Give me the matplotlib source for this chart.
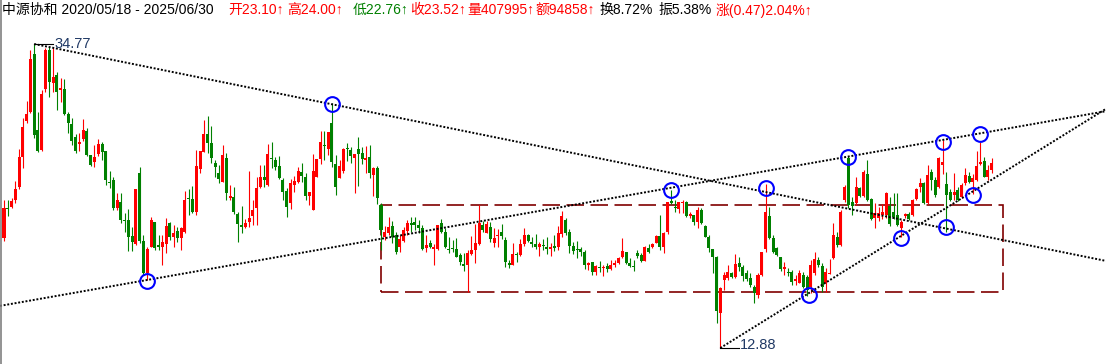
import numpy as np
import matplotlib.pyplot as plt
from matplotlib.lines import Line2D
from matplotlib.patches import Rectangle

# weekly bars of 中源协和, 2020/05/18 - 2025/06/30
opens = [
    20.80, 22.96, 23.04, 23.54, 24.48, 26.64, 29.23, 29.88, 34.05, 28.58,
    27.14, 31.53, 34.34, 31.96, 32.54, 31.46, 31.53, 29.73, 29.01, 28.08,
    27.57, 27.93, 28.51, 26.78, 26.28, 26.85, 27.57, 27.07, 24.84, 24.98,
    22.96, 23.40, 22.10, 22.10, 20.95, 20.37, 25.48, 20.59, 18.28, 20.16,
    21.96, 20.30, 20.16, 20.37, 21.88, 20.88, 21.31, 20.80, 21.24, 23.68,
    23.61, 22.68, 25.77, 27.00, 28.29, 27.64, 26.20, 25.48, 24.84, 26.56,
    23.68, 23.76, 22.53, 21.74, 21.60, 21.96, 22.39, 22.96, 24.48, 25.20,
    24.62, 26.56, 26.42, 25.99, 24.98, 24.19, 23.32, 24.62, 24.84, 25.56,
    25.20, 23.83, 22.82, 25.20, 26.49, 27.50, 27.21, 29.08, 26.13, 25.12,
    25.63, 27.28, 27.14, 26.56, 27.21, 26.92, 26.42, 26.64, 25.34, 25.84,
    23.18, 20.88, 21.16, 21.67, 21.02, 20.16, 20.59, 21.31, 21.88, 21.96,
    21.74, 21.52, 20.08, 20.44, 20.01, 20.01, 21.88, 21.24, 20.01, 20.08,
    20.01, 19.58, 18.93, 18.86, 19.65, 19.94, 20.37, 21.74, 21.16, 21.60,
    20.44, 20.95, 21.24, 20.66, 19.00, 18.86, 19.65, 19.58, 20.37, 21.02,
    20.52, 20.37, 20.16, 20.30, 20.16, 20.01, 20.23, 20.16, 21.09, 22.10,
    21.24, 20.23, 20.01, 20.01, 19.80, 18.86, 19.08, 18.36, 18.72, 18.64,
    18.79, 18.57, 18.86, 19.00, 19.44, 19.80, 19.00, 18.79, 19.72, 19.58,
    19.15, 20.08, 20.16, 20.44, 20.95, 20.16, 21.24, 23.47, 23.04, 22.89,
    23.32, 23.40, 22.39, 22.46, 21.96, 22.82, 21.67, 20.88, 20.01, 19.44,
    15.40, 17.78, 17.92, 18.28, 18.00, 19.00, 18.72, 18.28, 17.92, 17.28,
    16.70, 18.14, 20.01, 22.39, 20.80, 20.08, 19.44, 18.57, 18.36, 18.36,
    17.71, 17.56, 18.14, 18.00, 17.28, 18.28, 19.22, 18.79, 17.56, 18.21,
    19.36, 20.88, 20.30, 23.54, 26.56, 23.40, 23.32, 24.40, 23.83, 25.41,
    23.61, 22.24, 22.24, 22.46, 22.46, 23.11, 22.68, 22.46, 21.52, 22.39,
    22.53, 22.46, 23.61, 24.48, 24.76, 23.32, 25.56, 24.98, 24.48, 26.06,
    24.69, 24.12, 23.90, 24.26, 23.76, 24.76, 25.27, 24.84, 24.98, 26.13,
    26.35, 25.20, 25.70,
]
highs = [
    23.54, 23.54, 23.68, 24.91, 27.21, 29.44, 30.67, 34.34, 34.77, 29.88,
    31.46, 34.48, 34.56, 34.56, 32.76, 32.32, 32.25, 29.88, 29.44, 28.29,
    28.36, 29.37, 28.72, 26.78, 27.50, 27.93, 27.72, 27.07, 25.63, 25.20,
    24.04, 24.04, 22.60, 22.89, 21.60, 24.33, 25.92, 21.02, 20.16, 22.32,
    21.96, 21.02, 21.02, 22.24, 21.96, 21.74, 21.60, 21.60, 24.19, 24.33,
    24.55, 27.14, 27.07, 29.30, 29.59, 28.87, 26.42, 26.06, 27.50, 26.92,
    24.62, 24.48, 22.68, 23.11, 22.17, 25.63, 23.54, 25.20, 26.06, 26.06,
    27.57, 27.72, 26.64, 26.71, 25.12, 24.40, 25.05, 25.27, 25.92, 26.20,
    25.48, 24.12, 26.85, 26.49, 28.51, 28.51, 28.44, 30.52, 26.78, 26.42,
    27.28, 27.64, 27.36, 26.85, 28.08, 27.36, 27.43, 27.50, 25.92, 25.99,
    23.32, 21.67, 22.32, 22.03, 21.24, 21.02, 21.60, 22.10, 22.32, 22.32,
    22.10, 21.74, 21.02, 20.66, 20.37, 21.74, 22.17, 21.52, 20.88, 20.66,
    20.80, 19.72, 19.72, 19.94, 20.95, 21.81, 23.18, 22.03, 22.03, 21.96,
    21.52, 21.45, 21.81, 20.88, 19.22, 20.44, 19.80, 20.73, 21.52, 21.09,
    20.88, 21.09, 20.52, 20.73, 20.88, 20.44, 21.02, 21.67, 22.75, 22.24,
    21.45, 20.52, 20.59, 20.16, 19.94, 19.08, 19.08, 18.86, 19.15, 18.86,
    19.00, 19.22, 19.22, 19.44, 20.80, 19.80, 19.36, 19.22, 19.94, 19.72,
    20.23, 20.37, 20.44, 21.02, 22.46, 21.24, 23.40, 24.26, 23.54, 23.40,
    23.54, 23.47, 22.68, 22.46, 23.04, 22.96, 21.74, 21.02, 20.01, 19.51,
    17.28, 18.36, 18.86, 18.36, 19.65, 19.44, 18.86, 18.50, 18.28, 17.42,
    18.28, 19.80, 24.69, 23.04, 21.02, 20.16, 19.44, 19.08, 18.64, 18.50,
    18.14, 18.50, 18.36, 18.14, 19.22, 19.80, 19.44, 19.00, 18.64, 19.29,
    21.88, 21.24, 22.82, 24.62, 26.71, 23.76, 25.20, 24.48, 25.70, 26.42,
    23.68, 23.32, 23.04, 23.25, 24.12, 23.76, 24.04, 24.04, 22.10, 22.60,
    22.68, 23.61, 24.40, 25.12, 24.84, 26.06, 25.77, 25.20, 26.64, 27.86,
    25.56, 24.33, 25.48, 24.48, 24.76, 25.84, 25.56, 25.41, 27.07, 27.72,
    26.64, 26.06, 26.56,
]
lows = [
    20.59, 22.39, 22.96, 23.32, 24.33, 25.84, 29.08, 29.80, 28.00, 27.00,
    27.07, 31.32, 30.96, 31.32, 30.02, 30.60, 29.66, 28.36, 27.50, 26.92,
    27.07, 27.79, 26.71, 25.99, 25.92, 26.71, 26.42, 24.62, 24.40, 22.82,
    22.82, 21.88, 21.24, 19.87, 19.87, 20.30, 20.44, 18.14, 17.78, 20.16,
    19.94, 19.94, 18.86, 19.72, 20.66, 20.16, 20.52, 19.94, 21.16, 22.46,
    22.60, 22.46, 25.48, 27.00, 26.92, 26.20, 25.20, 24.76, 24.84, 23.54,
    23.54, 22.53, 20.52, 21.16, 21.52, 21.60, 21.74, 21.74, 24.40, 24.48,
    24.55, 25.84, 25.70, 25.05, 23.54, 22.32, 22.89, 24.12, 24.76, 24.84,
    23.54, 23.18, 22.82, 25.20, 26.13, 26.42, 26.78, 25.92, 23.90, 25.12,
    25.48, 26.35, 26.20, 24.04, 24.55, 26.13, 25.48, 25.12, 23.83, 23.25,
    19.94, 20.66, 21.02, 20.44, 19.65, 19.80, 20.52, 21.02, 21.24, 21.38,
    21.16, 19.94, 19.80, 20.08, 18.86, 19.94, 21.16, 20.08, 19.72, 19.80,
    19.44, 18.86, 18.43, 16.92, 19.58, 19.00, 20.30, 21.24, 21.16, 20.52,
    20.16, 20.16, 20.73, 18.72, 18.64, 18.86, 19.08, 19.51, 20.23, 20.52,
    20.16, 20.01, 19.51, 19.94, 19.65, 19.51, 19.87, 19.94, 20.88, 21.02,
    19.72, 19.65, 19.36, 19.51, 18.57, 18.50, 18.14, 18.14, 18.36, 18.07,
    18.36, 18.50, 18.72, 18.93, 19.36, 18.93, 18.72, 18.43, 19.36, 19.08,
    19.15, 19.72, 20.08, 20.44, 19.94, 19.72, 21.09, 23.25, 22.68, 22.60,
    22.60, 22.32, 22.24, 21.74, 21.52, 21.81, 20.88, 19.80, 18.28, 14.68,
    12.88, 17.06, 17.78, 17.92, 17.92, 18.43, 17.71, 17.71, 17.28, 16.12,
    16.48, 18.07, 19.80, 20.73, 19.72, 19.51, 18.43, 18.14, 18.07, 17.42,
    17.42, 17.56, 17.20, 16.63, 16.84, 18.14, 18.72, 16.92, 16.92, 18.21,
    19.29, 20.16, 20.23, 23.40, 22.96, 22.46, 23.18, 23.76, 23.76, 23.47,
    22.10, 21.52, 22.03, 22.17, 22.24, 21.67, 22.17, 21.67, 20.88, 22.24,
    22.10, 22.39, 23.54, 24.12, 23.25, 23.25, 24.26, 23.76, 24.40, 25.41,
    21.24, 23.47, 23.54, 23.47, 23.68, 24.62, 24.76, 23.97, 24.91, 26.06,
    25.20, 24.98, 25.48,
]
closes = [
    22.96, 22.89, 23.47, 24.33, 26.64, 28.80, 29.73, 33.69, 28.22, 27.07,
    31.17, 34.34, 32.04, 32.40, 31.32, 31.60, 29.73, 29.08, 27.79, 27.07,
    27.72, 28.58, 26.78, 26.06, 26.64, 27.57, 27.00, 24.98, 24.76, 22.96,
    23.54, 22.10, 22.03, 20.88, 20.52, 24.33, 20.59, 18.28, 20.01, 22.10,
    20.08, 20.16, 20.52, 21.67, 20.88, 21.16, 20.80, 21.52, 23.54, 23.61,
    22.68, 25.99, 27.07, 28.29, 27.64, 26.56, 25.92, 25.05, 26.78, 24.04,
    23.83, 22.68, 21.81, 21.60, 21.88, 22.24, 22.82, 24.40, 25.20, 24.98,
    26.85, 26.49, 25.92, 25.12, 24.12, 23.04, 24.76, 24.91, 25.63, 25.27,
    23.83, 24.12, 25.63, 26.49, 27.72, 27.43, 28.44, 26.28, 24.48, 25.99,
    27.21, 27.21, 26.71, 26.85, 26.85, 26.49, 26.56, 25.48, 25.84, 23.68,
    21.38, 21.24, 21.60, 20.88, 19.80, 20.73, 21.38, 21.88, 21.74, 21.74,
    21.52, 20.01, 20.30, 20.16, 20.16, 21.74, 21.24, 20.16, 19.94, 20.01,
    19.44, 19.08, 18.79, 19.72, 19.94, 20.44, 21.88, 21.38, 21.81, 20.73,
    20.80, 21.02, 20.95, 19.08, 18.86, 19.65, 19.58, 20.37, 21.02, 20.59,
    20.37, 20.16, 20.37, 20.23, 20.01, 20.16, 20.08, 21.16, 22.39, 21.16,
    20.23, 19.87, 19.94, 19.80, 18.86, 19.00, 18.36, 18.79, 18.64, 18.72,
    18.57, 18.86, 19.00, 19.36, 19.87, 19.00, 18.79, 18.72, 19.51, 19.15,
    20.16, 19.80, 20.37, 20.95, 20.16, 21.16, 23.40, 23.32, 22.96, 23.40,
    23.40, 22.39, 22.53, 21.96, 22.82, 21.88, 20.88, 20.08, 19.44, 15.55,
    17.20, 18.14, 18.36, 18.00, 18.93, 18.72, 18.07, 17.85, 17.42, 16.84,
    18.14, 19.80, 22.68, 20.80, 19.80, 19.58, 18.57, 18.72, 18.28, 17.64,
    17.85, 18.28, 17.28, 17.06, 18.86, 19.29, 18.86, 17.28, 18.36, 18.28,
    21.02, 20.30, 22.68, 24.48, 23.18, 23.11, 24.48, 23.83, 25.56, 23.54,
    22.17, 22.60, 22.60, 22.68, 24.04, 21.81, 22.32, 21.74, 21.96, 22.53,
    22.17, 23.54, 24.33, 24.76, 23.32, 25.34, 24.98, 23.90, 26.56, 26.28,
    23.90, 23.54, 24.12, 23.54, 24.62, 25.34, 24.84, 25.12, 25.99, 26.28,
    25.20, 25.70, 26.20,
]

# hand drawn analysis: (bar index, price)
top_line = [(8, 34.77), (87, 30.43)]
bottom_line = [(38, 17.78), (259, 28.34)]
wedge_line = [(190, 12.88), (257, 24.16)]
box_left, box_right = 100, 265
box_top, box_bottom = 23.18, 16.92
circle_idx = [38, 87, 177, 202, 224, 249, 259, 213.5, 238, 250, 257]
circle_price = [17.73, 30.43, 24.26, 24.38, 26.61, 27.74, 28.27, 16.70, 20.78, 21.57, 23.90]
high_mark = (8, 34.77)
low_mark = (190, 12.88)

title_parts = ["中源协和 2020/05/18 - 2025/06/30", "开23.10↑", "高24.00↑", "低22.76↑",
               "收23.52↑", "量407995↑", "额94858↑", "换8.72%", "振5.38%", "涨(0.47)2.04%↑"]
title_colors = ['black', 'red', 'red', '#008000', 'red', 'red', 'red', 'black', 'black', 'red']

FONTS = ['Liberation Sans', 'Noto Sans CJK SC', 'DejaVu Sans']
W, H = 1106, 364
STEP = 3.77          # pixels per bar
PX_PER_YUAN = 13.888


def line_through(p0, p1, x_start, x_end):
    """Extend the line through two anchor points over [x_start, x_end]."""
    slope = (p1[1] - p0[1]) / (p1[0] - p0[0])
    return [x_start, x_end], [p0[1] + slope * (x_start - p0[0]), p0[1] + slope * (x_end - p0[0])]


def main():
    plt.rcParams['font.family'] = FONTS
    fig = plt.figure(figsize=(W / 100, H / 100), dpi=100)
    ax = fig.add_axes([0, 0, 1, 1])
    ax.axis('off')
    x0 = -4 / STEP
    x1 = (W - 4) / STEP
    ax.set_xlim(x0, x1)
    ax.set_ylim(34.77 - (H - 44) / PX_PER_YUAN, 34.77 + 44 / PX_PER_YUAN)

    # trading range box
    ax.add_patch(Rectangle((box_left, box_bottom), box_right - box_left, box_top - box_bottom,
                           fill=False, edgecolor='#800000', lw=1.2, ls=(0, (10.5, 3.9)), zorder=1))

    # candles
    o = np.array(opens)
    h = np.array(highs)
    l = np.array(lows)
    c = np.array(closes)
    idx = np.arange(len(o))
    colors = np.where(c >= o, '#ff0000', '#008000')
    ax.vlines(idx, l, h, colors=colors, lw=0.8, zorder=2)
    body = np.maximum(np.abs(c - o), 0.06)
    ax.bar(idx, body, bottom=np.minimum(o, c), width=0.8, color=colors, linewidth=0, zorder=3)

    # trend lines
    dots = dict(color='black', lw=1.4, ls=(0, (1, 0.9)), dash_capstyle='butt', zorder=4)
    ax.plot(*line_through(top_line[0], top_line[1], top_line[0][0], x1), **dots)
    ax.plot(*line_through(bottom_line[0], bottom_line[1], x0, x1), **dots)
    ax.plot(*line_through(wedge_line[0], wedge_line[1], wedge_line[0][0], x1), **dots)

    # touch points
    ax.plot(circle_idx, circle_price, 'o', ms=10.6, mfc='none', mec='#0000ff', mew=1.5, zorder=5)

    # high / low labels
    for (i, p), dy in [(high_mark, 0), (low_mark, 3.5)]:
        ax.plot([i, i + 19 / STEP], [p, p], color='black', lw=0.8, zorder=5)
        ax.text(i + 20 / STEP, p + dy / PX_PER_YUAN, f'{p:.2f}', color='#1f3864',
                fontsize=10.5, va='center', ha='left', zorder=6)

    # header line
    starts = [2, 228, 287, 353, 410, 467, 535, 599, 658, 716]
    for txt, col, xs in zip(title_parts, title_colors, starts):
        fig.text(xs / W, 1 - 10 / H, txt, color=col, fontsize=10, va='center', ha='left')

    fig.add_artist(Line2D([1 / W, 1 / W], [0, 1], transform=fig.transFigure, color='#808080', lw=1.2))

    fig.savefig('out.png', dpi=100)
    plt.close(fig)


if __name__ == '__main__':
    main()
